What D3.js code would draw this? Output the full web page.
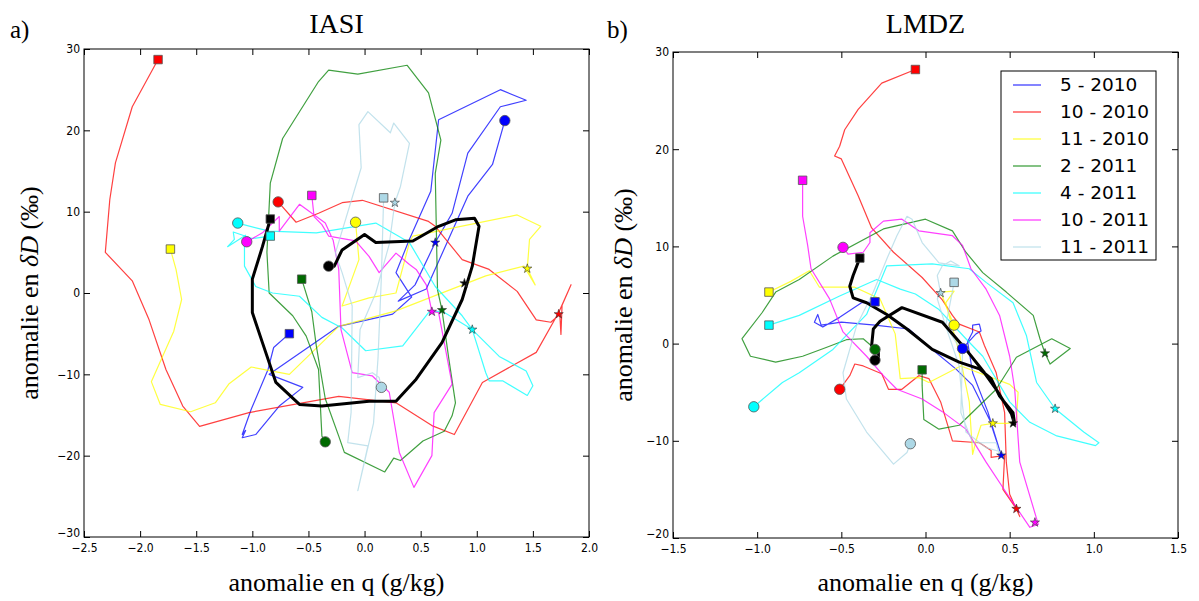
<!DOCTYPE html>
<html>
<head>
<meta charset="utf-8">
<script src="https://cdn.jsdelivr.net/npm/d3@7"></script>
<style>
body { margin: 0; background: #fff; }
svg { display: block; }
.tick text { font-family: "DejaVu Sans Condensed", "DejaVu Sans", sans-serif; font-stretch: condensed; font-size: 12px; fill: #000; }
.tick line { stroke: #000; }
.serif { font-family: "Liberation Serif", "DejaVu Serif", serif; fill: #000; }
</style>
</head>
<body>
<svg width="1199" height="601"></svg>
<script>
// legend / colours
let seriesNames = ["5 - 2010", "10 - 2010", "11 - 2010", "2 - 2011", "4 - 2011", "10 - 2011", "11 - 2011"];
let seriesColors = ["#0000ff", "#ff0000", "#ffff00", "#008000", "#00ffff", "#ff00ff", "#add8e6"];

// ---- IASI (a) : [anomalie q, anomalie dD]
let iasiBlue = [[-0.67,-5.0],[-0.81,-6.7],[-0.86,-9.4],[-1.01,-14.3],[-1.09,-17.4],[-1.06,-16.9],[-1.09,-17.8],[-0.97,-17.4],[-0.76,-13.9],[-0.55,-11.6],[-0.85,-10.0],[-0.23,-4.1],[0.25,-2.6],[0.42,-0.5],[0.28,2.5],[0.4,6.6],[0.59,12.5],[0.66,21.3],[1.21,25.0],[1.44,23.7],[1.21,22.9],[0.92,17.2],[0.78,9.8],[0.63,6.2],[0.45,1.0],[0.3,-1.0],[0.55,0.5],[0.92,11.9],[1.14,15.8],[1.25,21.2]];
let iasiRed = [[-1.84,28.7],[-2.07,22.9],[-2.22,16.0],[-2.27,11.5],[-2.31,5.0],[-2.07,1.5],[-1.92,-3.3],[-1.77,-9.4],[-1.62,-13.9],[-1.47,-16.4],[-1.03,-14.7],[-0.23,-12.7],[0.28,-13.5],[0.6,-16.3],[0.8,-17.4],[1.05,-11.0],[1.53,-7.3],[1.73,-2.4],[1.84,1.0],[1.76,-1.5],[1.75,-5.1],[1.74,-2.6],[1.66,-3.6],[1.53,-3.3],[1.36,0.2],[1.11,2.9],[0.87,4.1],[0.63,8.2],[0.57,8.8],[-0.02,11.4],[-0.2,11.1],[-0.41,9.8],[-0.61,8.7],[-0.77,11.2]];
let iasiYellow = [[-1.73,5.4],[-1.68,2.9],[-1.63,-0.8],[-1.7,-4.7],[-1.9,-10.9],[-1.82,-13.7],[-1.55,-14.6],[-1.33,-13.5],[-1.21,-11.2],[-1.01,-9.1],[-0.67,-10.0],[-0.23,-4.1],[0.28,-2.2],[1.08,2.1],[1.42,3.3],[1.52,1.0],[1.45,3.0],[1.47,6.6],[1.57,8.2],[1.36,9.6],[0.43,7.0],[0.4,6.2],[0.28,0.0],[0.04,-0.6],[-0.2,-1.6],[-0.05,4.1],[-0.08,8.7]];
let iasiGreen = [[-0.56,1.7],[-0.47,-2.3],[-0.43,-6.5],[-0.35,-13.0],[-0.23,-17.6],[-0.18,-19.6],[0.18,-22.0],[0.26,-20.3],[0.32,-20.6],[0.52,-18.2],[0.71,-17.0],[0.78,-15.1],[0.81,-13.5],[0.75,-8.0],[0.69,-2.1],[0.65,0.4],[0.63,14.7],[0.68,18.8],[0.57,24.6],[0.38,28.0],[-0.06,26.9],[-0.32,27.4],[-0.41,26.0],[-0.73,19.0],[-0.84,13.5],[-0.87,5.0],[-0.85,0.0],[-0.64,-2.8],[-0.52,-5.3],[-0.41,-9.4],[-0.38,-17.6],[-0.35,-18.3]];
let iasiCyan = [[-0.84,7.0],[-1.0,6.7],[-1.17,7.5],[-1.16,6.6],[-1.22,5.7],[-1.06,7.1],[-1.07,5.7],[-1.07,3.3],[-0.97,0.8],[-0.82,0.0],[-0.58,-0.4],[-0.38,-3.0],[-0.2,-4.3],[0.01,-7.1],[0.34,-6.5],[0.57,-2.4],[0.69,-2.2],[0.96,-4.5],[1.2,-7.8],[1.44,-9.6],[1.5,-11.4],[1.45,-12.6],[1.23,-10.8],[1.11,-10.8],[1.08,-9.8],[0.96,-4.5],[0.87,-2.8],[0.63,0.8],[0.4,6.2],[0.1,8.6],[-0.43,7.4],[-0.85,7.6],[-1.13,8.6]];
let iasiMagenta = [[-0.47,12.0],[-0.45,9.4],[-0.38,8.4],[-0.32,7.0],[-0.08,6.4],[0.04,4.5],[0.13,2.5],[0.28,4.9],[0.4,3.5],[0.46,2.9],[0.55,1.0],[0.6,-2.3],[0.66,-2.4],[0.78,-11.2],[0.62,-14.7],[0.6,-20.0],[0.44,-23.9],[0.31,-19.6],[0.22,-12.2],[0.07,-10.2],[-0.11,-9.8],[-0.21,-4.5],[-0.23,2.9],[-0.28,6.5],[-0.35,8.6],[-0.58,10.9],[-0.76,7.6],[-0.76,9.4],[-0.91,7.4],[-1.05,6.3]];
let iasiLight = [[0.17,11.7],[0.15,2.0],[0.12,-8.0],[0.08,-16.0],[-0.06,-24.3],[0.03,-18.8],[-0.15,-18.4],[-0.12,-14.7],[-0.11,-1.6],[-0.2,2.5],[-0.26,4.9],[-0.03,15.4],[-0.05,20.7],[0.03,22.3],[0.23,19.7],[0.26,20.9],[0.4,18.4],[0.32,13.1],[0.27,11.1],[0.22,6.0],[0.1,0.0],[-0.04,-4.5],[-0.06,-10.4],[0.07,-9.8],[0.13,-10.4],[0.15,-11.6]];
let iasiMean = [[-0.84,9.1],[-0.91,5.7],[-1.0,1.7],[-1.0,-2.4],[-0.91,-6.1],[-0.79,-11.0],[-0.58,-13.7],[-0.38,-13.9],[0.04,-13.3],[0.28,-13.3],[0.46,-10.6],[0.69,-6.1],[0.87,-0.8],[0.96,3.3],[1.02,8.2],[0.98,9.2],[0.81,9.0],[0.66,8.2],[0.43,6.4],[0.1,6.2],[0.0,7.2],[-0.2,5.3],[-0.27,3.3],[-0.32,3.3]];
let iasiStars = [[0.63,6.2],[1.73,-2.6],[1.45,3.0],[0.69,-2.1],[0.96,-4.5],[0.6,-2.3],[0.27,11.1]];
let iasiMeanStar = [0.89,1.2];

// ---- LMDZ (b)
let lmdzBlue = [[-0.3,4.3],[-0.38,4.2],[-0.51,2.7],[-0.61,1.7],[-0.66,2.2],[-0.64,3.0],[-0.62,1.9],[-0.5,2.2],[-0.3,1.9],[-0.1,1.5],[0.04,-0.6],[0.18,-2.6],[0.28,-4.3],[0.38,-7.8],[0.45,-11.5],[0.37,-7.0],[0.28,-3.0],[0.25,0.2],[0.28,1.2],[0.28,1.9],[0.32,2.0],[0.33,1.3],[0.3,1.0],[0.22,-0.5]];
let lmdzRed = [[-0.06,28.2],[-0.26,26.8],[-0.4,24.1],[-0.48,22.0],[-0.51,20.3],[-0.54,19.3],[-0.5,19.0],[-0.4,15.2],[-0.32,11.9],[-0.19,9.4],[-0.02,6.8],[0.1,4.5],[0.16,2.9],[0.2,2.0],[0.32,1.2],[0.35,-0.2],[0.42,-3.0],[0.47,-7.1],[0.48,-12.2],[0.5,-15.5],[0.56,-17.8],[0.54,-17.0],[0.46,-15.0],[0.47,-11.5],[0.39,-11.7],[0.39,-11.0],[0.32,-10.2],[0.16,-10.0],[0.09,-6.0],[0.02,-3.6],[-0.04,-3.3],[-0.14,-4.7],[-0.22,-4.7],[-0.26,-3.1],[-0.37,-2.3],[-0.42,-2.1],[-0.45,-3.3],[-0.51,-4.7]];
let lmdzYellow = [[-0.93,5.3],[-0.8,6.4],[-0.69,7.5],[-0.63,5.8],[-0.42,5.8],[-0.27,4.6],[-0.18,1.0],[-0.15,-3.6],[-0.04,-3.5],[0.02,-4.0],[0.21,-2.3],[0.5,-4.2],[0.55,-5.0],[0.54,-8.1],[0.48,-8.2],[0.4,-8.2],[0.33,-8.4],[0.3,-10.0],[0.28,-11.4],[0.26,-6.0],[0.2,-0.9],[0.12,4.2],[0.17,5.4],[0.09,5.3],[0.13,3.5],[0.17,1.9]];
let lmdzGreen = [[-0.02,-2.7],[-0.02,-4.3],[-0.01,-7.8],[0.08,-8.8],[0.2,-8.4],[0.42,-4.7],[0.54,-1.4],[0.75,0.5],[0.86,-0.5],[0.74,-2.1],[0.71,-1.0],[0.68,0.5],[0.64,2.9],[0.48,5.3],[0.34,7.3],[0.24,9.4],[0.16,11.6],[0.0,12.8],[-0.25,11.8],[-0.55,9.0],[-0.75,6.6],[-0.89,5.3],[-0.97,3.2],[-1.09,0.5],[-1.04,-1.3],[-0.89,-1.9],[-0.73,-1.3],[-0.59,-0.4],[-0.47,0.4],[-0.37,0.5],[-0.31,-0.4],[-0.3,-0.6]];
let lmdzCyan = [[-0.93,1.9],[-0.75,2.9],[-0.51,4.9],[-0.29,6.6],[-0.15,5.6],[-0.06,5.1],[0.08,3.5],[0.24,0.5],[0.34,-1.3],[0.5,-6.0],[0.62,-8.1],[0.78,-9.5],[1.01,-10.5],[1.03,-10.2],[0.94,-9.1],[0.77,-6.7],[0.66,-4.0],[0.6,0.8],[0.52,4.2],[0.36,6.3],[0.26,7.7],[0.04,8.2],[-0.23,8.0],[-0.35,3.0],[-0.55,-0.6],[-0.75,-3.0],[-0.85,-4.0],[-1.02,-6.5]];
let lmdzMagenta = [[-0.73,16.8],[-0.73,13.1],[-0.7,10.1],[-0.68,7.7],[-0.57,4.6],[-0.49,1.2],[-0.35,-1.3],[-0.25,-3.3],[-0.17,-4.7],[-0.02,-5.7],[0.1,-7.0],[0.24,-8.8],[0.36,-12.2],[0.49,-15.6],[0.62,-18.9],[0.67,-18.6],[0.56,-12.2],[0.53,-4.7],[0.5,-1.3],[0.44,2.9],[0.36,5.6],[0.27,7.7],[0.22,10.1],[0.16,11.1],[-0.04,11.6],[-0.14,12.8],[-0.25,12.6],[-0.33,11.4],[-0.33,10.4],[-0.37,9.4],[-0.46,9.2],[-0.49,9.9]];
let lmdzLight = [[0.17,6.3],[0.12,1.8],[0.2,-2.3],[0.22,-6.4],[0.24,-9.1],[0.36,-10.7],[0.46,-11.2],[0.44,-11.5],[0.42,-10.2],[0.28,-10.2],[0.21,-7.1],[0.22,-0.9],[0.12,1.8],[0.07,4.6],[0.09,5.2],[0.07,7.0],[0.1,8.0],[0.15,8.5],[0.2,8.0],[0.08,8.3],[-0.02,10.4],[-0.08,12.8],[-0.11,13.1],[-0.17,11.1],[-0.23,8.7],[-0.31,5.3],[-0.41,1.8],[-0.49,-3.0],[-0.47,-5.7],[-0.35,-9.1],[-0.19,-12.4],[-0.11,-11.2],[-0.09,-10.3]];
let lmdzMean = [[-0.39,8.8],[-0.43,7.0],[-0.45,5.9],[-0.43,4.7],[-0.35,4.2],[-0.23,3.0],[-0.11,1.5],[0.04,-0.6],[0.2,-1.9],[0.32,-2.6],[0.39,-3.6],[0.44,-5.4],[0.52,-7.1],[0.53,-8.3],[0.51,-7.2],[0.42,-4.7],[0.35,-3.0],[0.24,-0.6],[0.1,2.2],[-0.14,3.7],[-0.27,2.3],[-0.31,1.5],[-0.32,-0.2],[-0.28,-0.9],[-0.28,-1.6],[-0.3,-1.7]];
let lmdzStars = [[0.45,-11.5],[0.54,-17.0],[0.4,-8.2],[0.71,-1.0],[0.77,-6.7],[0.65,-18.4],[0.09,5.2]];
let lmdzMeanStar = [0.52,-8.2];

let iasiXTicks = [-2.5, -2.0, -1.5, -1.0, -0.5, 0.0, 0.5, 1.0, 1.5, 2.0];
let iasiYTicks = [-30, -20, -10, 0, 10, 20, 30];
let lmdzXTicks = [-1.5, -1.0, -0.5, 0.0, 0.5, 1.0, 1.5];
let lmdzYTicks = [-20, -10, 0, 10, 20, 30];

let svg = d3.select("svg");

function marker(type, size) {
    return d3.symbol().type(type).size(size)();
}

function drawPanel(p) {
    let x = d3.scaleLinear().domain(p.xDomain).range([p.left, p.right]);
    let y = d3.scaleLinear().domain(p.yDomain).range([p.bottom, p.top]);

    let g = svg.append("g");

    g.append("clipPath").attr("id", p.id + "-clip")
        .append("rect")
        .attr("x", p.left).attr("y", p.top)
        .attr("width", p.right - p.left).attr("height", p.bottom - p.top);

    let plot = g.append("g").attr("clip-path", "url(#" + p.id + "-clip)");
    let line = d3.line().x(d => x(d[0])).y(d => y(d[1]));

    // coloured trajectories
    p.series.forEach((s, i) => {
        plot.append("path")
            .attr("d", line(s))
            .attr("fill", "none")
            .attr("stroke", seriesColors[i])
            .attr("stroke-opacity", 0.75)
            .attr("stroke-width", 1.2)
            .attr("stroke-linejoin", "round");
    });
    // mean
    plot.append("path")
        .attr("d", line(p.mean))
        .attr("fill", "none")
        .attr("stroke", "#000")
        .attr("stroke-width", 3)
        .attr("stroke-linejoin", "round");

    // markers: square = first point, circle = last point, star
    let all = p.series.map((s, i) => ({ s: s, c: seriesColors[i], star: p.stars[i] }));
    all.push({ s: p.mean, c: "#000", star: p.meanStar });
    all.forEach(o => {
        let first = o.s[0], last = o.s[o.s.length - 1];
        let fill = o.c === "#008000" ? "#006a00" : o.c;
        plot.append("path")
            .attr("d", marker(d3.symbolSquare, 72))
            .attr("transform", `translate(${x(first[0])},${y(first[1])})`)
            .attr("fill", fill)
            .attr("stroke", "#555").attr("stroke-width", 0.8);
        plot.append("path")
            .attr("d", marker(d3.symbolCircle, 85))
            .attr("transform", `translate(${x(last[0])},${y(last[1])})`)
            .attr("fill", fill)
            .attr("stroke", "#555").attr("stroke-width", 0.8);
        plot.append("path")
            .attr("d", marker(d3.symbolStar, 26))
            .attr("transform", `translate(${x(o.star[0])},${y(o.star[1])})`)
            .attr("fill", fill)
            .attr("stroke", "#333").attr("stroke-width", 0.6);
    });

    // axes, ticks pointing inwards on all four sides
    let fx = d3.format(".1f");
    let fy = d3.format("d");
    g.append("g").attr("transform", `translate(0,${p.bottom})`)
        .call(d3.axisBottom(x).tickValues(p.xTicks).tickSize(-6).tickPadding(6).tickFormat(fx))
        .call(a => a.select(".domain").remove());
    g.append("g").attr("transform", `translate(0,${p.top})`)
        .call(d3.axisTop(x).tickValues(p.xTicks).tickSize(-6).tickFormat(""))
        .call(a => a.select(".domain").remove());
    let ya = g.append("g").attr("transform", `translate(${p.left},0)`)
        .call(d3.axisLeft(y).tickValues(p.yTicks).tickSize(-6).tickPadding(4).tickFormat(fy))
        .call(a => a.select(".domain").remove());
    // lowest y label sits a little above the corner, as in the original
    ya.selectAll(".tick").filter(d => d === p.yDomain[0]).select("text").attr("dy", "-0.05em");
    g.append("g").attr("transform", `translate(${p.right},0)`)
        .call(d3.axisRight(y).tickValues(p.yTicks).tickSize(-6).tickFormat(""))
        .call(a => a.select(".domain").remove());
    g.selectAll(".tick text").attr("font-family", null).attr("font-size", null);

    g.append("rect")
        .attr("x", p.left).attr("y", p.top)
        .attr("width", p.right - p.left).attr("height", p.bottom - p.top)
        .attr("fill", "none").attr("stroke", "#000").attr("stroke-width", 1);

    let cx = (p.left + p.right) / 2;
    g.append("text").classed("serif", true)
        .attr("x", cx).attr("y", 33)
        .attr("text-anchor", "middle").style("font-size", "28px")
        .text(p.title);
    g.append("text").classed("serif", true)
        .attr("x", p.letterX).attr("y", 38)
        .style("font-size", "25px")
        .text(p.letter);
    g.append("text").classed("serif", true)
        .attr("x", cx).attr("y", 591)
        .attr("text-anchor", "middle").style("font-size", "26px")
        .text("anomalie en q (g/kg)");

    let yl = g.append("text").classed("serif", true)
        .attr("transform", `translate(${p.ylabelX},${(p.top + p.bottom) / 2}) rotate(-90)`)
        .attr("text-anchor", "middle").style("font-size", "26px");
    yl.append("tspan").text("anomalie en ");
    yl.append("tspan").style("font-style", "italic").text("δD");
    yl.append("tspan").text(" (‰)");

    return { x: x, y: y };
}

drawPanel({
    id: "iasi", title: "IASI", letter: "a)", letterX: 10, ylabelX: 38,
    left: 84, right: 589, top: 49, bottom: 537,
    xDomain: [-2.5, 2.0], yDomain: [-30, 30],
    xTicks: iasiXTicks, yTicks: iasiYTicks,
    series: [iasiBlue, iasiRed, iasiYellow, iasiGreen, iasiCyan, iasiMagenta, iasiLight],
    mean: iasiMean, stars: iasiStars, meanStar: iasiMeanStar
});

drawPanel({
    id: "lmdz", title: "LMDZ", letter: "b)", letterX: 607, ylabelX: 632,
    left: 673, right: 1178, top: 52, bottom: 538,
    xDomain: [-1.5, 1.5], yDomain: [-20, 30],
    xTicks: lmdzXTicks, yTicks: lmdzYTicks,
    series: [lmdzBlue, lmdzRed, lmdzYellow, lmdzGreen, lmdzCyan, lmdzMagenta, lmdzLight],
    mean: lmdzMean, stars: lmdzStars, meanStar: lmdzMeanStar
});

// legend (right panel, upper right)
let leg = svg.append("g").attr("transform", "translate(1001,71)");
leg.append("rect").attr("width", 155).attr("height", 189)
    .attr("fill", "#fff").attr("stroke", "#000").attr("stroke-width", 1);
seriesNames.forEach((name, i) => {
    let yy = 14 + i * 27;
    leg.append("line")
        .attr("x1", 12).attr("x2", 40).attr("y1", yy).attr("y2", yy)
        .attr("stroke", seriesColors[i]).attr("stroke-opacity", 0.75).attr("stroke-width", 1.3);
    leg.append("text")
        .attr("x", 59).attr("y", yy + 6)
        .style("font-family", "'DejaVu Sans', sans-serif").style("font-size", "18.5px")
        .text(name);
});
</script>
</body>
</html>
